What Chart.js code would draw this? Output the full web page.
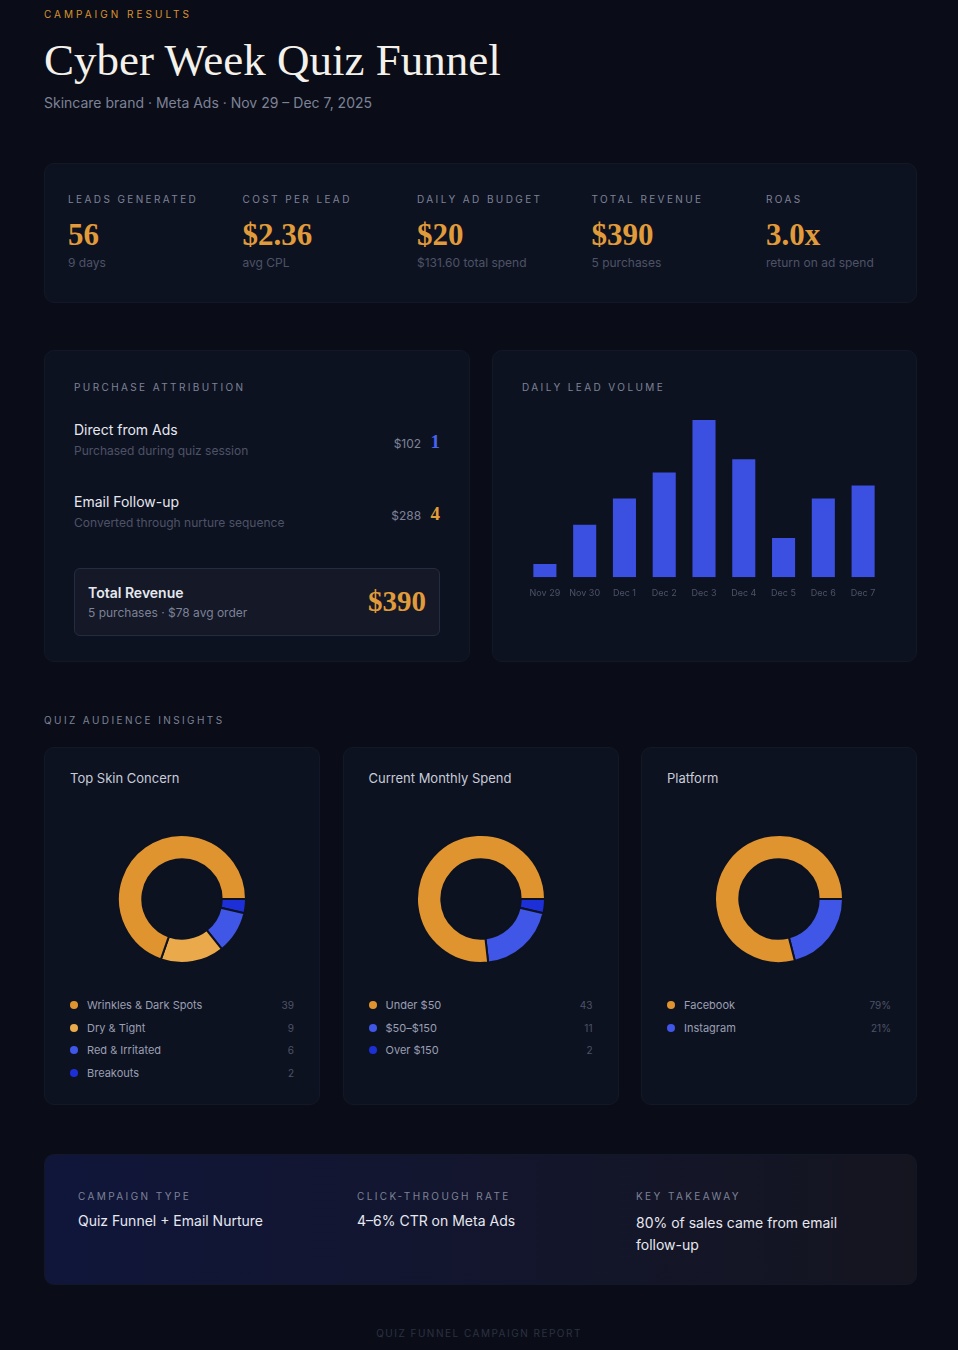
<!DOCTYPE html>
<html><head><meta charset="utf-8">
<script src="https://cdn.jsdelivr.net/npm/chart.js@4"></script>
<style>
body{margin:0;background:#0a0d18;font-family:Inter,"Noto Sans",sans-serif;color:#e6e8f0;width:958px;height:1350px;overflow:hidden;}
.wrap{padding:0 44px;position:relative}
.kick{color:#d9932e;font-size:10px;letter-spacing:3px;padding-top:8px}
h1{font-family:"Liberation Serif","DejaVu Serif",serif;font-weight:400;font-size:45px;margin:14px 0 8px;color:#f4f1ea}
.sub{color:#7d8296;font-size:14px}
.card{background:#0d1221;border:1px solid #121828;border-radius:10px;position:absolute}
.lab{font-size:10px;letter-spacing:2.4px;color:#7d8296}
.big{font-family:"Liberation Serif","DejaVu Serif",serif;font-weight:700;color:#e19b3a;font-size:31px;margin-top:12px}
.sm{font-size:12px;color:#4d5366;margin-top:2px}
.kpi{position:absolute;top:29px}
.row{position:absolute;left:29px;right:29px}
.t{font-size:14px;color:#e6e8f0}
.d{font-size:12px;color:#4d5366;margin-top:5px}
.leg{position:absolute;left:25px;right:25px;font-size:11px;color:#9a9fb2}
.leg div{display:flex;align-items:center;height:22.5px}
.leg i{width:8px;height:8px;border-radius:50%;display:inline-block;margin-right:9px}
.leg span{margin-left:auto;color:#4d5366;font-size:10px}
.ct{position:absolute;left:25px;top:22px;font-size:13px;color:#c8ccd8}
</style></head><body>
<div class="wrap">
<div class="kick">CAMPAIGN RESULTS</div>
<h1>Cyber Week Quiz Funnel</h1>
<div class="sub">Skincare brand · Meta Ads · Nov 29 – Dec 7, 2025</div>
</div>
<div class="card" style="left:44px;top:163px;width:871px;height:138px" id="kpis"></div>

<div class="card" style="left:44px;top:350px;width:424px;height:310px">
 <div class="lab" style="position:absolute;left:29px;top:30px">PURCHASE ATTRIBUTION</div>
 <div class="row" style="top:70px"><div class="t">Direct from Ads</div><div class="d">Purchased during quiz session</div>
  <div style="position:absolute;right:0;top:10px;font-size:12px;color:#7d8296">$102 <b style="font-family:'Liberation Serif',serif;color:#4a62f0;font-size:19px;margin-left:6px">1</b></div></div>
 <div class="row" style="top:142px"><div class="t">Email Follow-up</div><div class="d">Converted through nurture sequence</div>
  <div style="position:absolute;right:0;top:10px;font-size:12px;color:#7d8296">$288 <b style="font-family:'Liberation Serif',serif;color:#e19b3a;font-size:19px;margin-left:6px">4</b></div></div>
 <div class="row" style="top:217px;height:66px;border:1px solid #262c40;border-radius:6px;background:#141827">
  <div style="position:absolute;left:13px;top:15px;font-size:14px;font-weight:600">Total Revenue</div>
  <div style="position:absolute;left:13px;top:36px;font-size:12px;color:#7d8296">5 purchases · $78 avg order</div>
  <div style="position:absolute;right:13px;top:16px;font-family:'Liberation Serif',serif;font-weight:700;font-size:29px;color:#e19b3a">$390</div>
 </div>
</div>

<div class="card" style="left:492px;top:350px;width:423px;height:310px">
 <div class="lab" style="position:absolute;left:29px;top:30px">DAILY LEAD VOLUME</div>
 <div style="position:absolute;left:32px;top:69px;width:358px;height:182px"><canvas id="bar"></canvas></div>
</div>

<div class="lab" style="position:absolute;left:44px;top:714px">QUIZ AUDIENCE INSIGHTS</div>
<div id="donuts"></div>

<div class="card" style="left:44px;top:1154px;width:871px;height:129px;background:linear-gradient(90deg,#10163a,#151520)">
 <div style="position:absolute;left:33px;top:35px"><div class="lab">CAMPAIGN TYPE</div><div style="font-size:14px;margin-top:10px">Quiz Funnel + Email Nurture</div></div>
 <div style="position:absolute;left:312px;top:35px"><div class="lab">CLICK-THROUGH RATE</div><div style="font-size:14px;margin-top:10px">4–6% CTR on Meta Ads</div></div>
 <div style="position:absolute;left:591px;top:35px;width:250px"><div class="lab">KEY TAKEAWAY</div><div style="font-size:14px;margin-top:10px;line-height:22px">80% of sales came from email follow-up</div></div>
</div>
<div style="position:absolute;top:1327px;width:958px;text-align:center;font-size:10px;letter-spacing:1.5px;color:#2c3142">QUIZ FUNNEL CAMPAIGN REPORT</div>

<script>
const kpiLabels = ['LEADS GENERATED','COST PER LEAD','DAILY AD BUDGET','TOTAL REVENUE','ROAS'];
const kpiValues = ['56','$2.36','$20','$390','3.0x'];
const kpiNotes = ['9 days','avg CPL','$131.60 total spend','5 purchases','return on ad spend'];

const days = ['Nov 29','Nov 30','Dec 1','Dec 2','Dec 3','Dec 4','Dec 5','Dec 6','Dec 7'];
const dailyLeads = [1,4,6,8,12,9,3,6,7];

const donutTitles = ['Top Skin Concern','Current Monthly Spend','Platform'];
const concernLabels = ['Wrinkles & Dark Spots','Dry & Tight','Red & Irritated','Breakouts'];
const concernValues = [39,9,6,2];
const spendLabels = ['Under $50','$50–$150','Over $150'];
const spendValues = [43,11,2];
const platformLabels = ['Facebook','Instagram'];
const platformValues = [79,21];
const platformText = ['79%','21%'];

const kp = document.getElementById('kpis');
kpiLabels.forEach((l,i)=>{
  const d=document.createElement('div');d.className='kpi';d.style.left=(23+i*174.5)+'px';
  d.innerHTML=`<div class="lab">${l}</div><div class="big">${kpiValues[i]}</div><div class="sm">${kpiNotes[i]}</div>`;
  kp.appendChild(d);
});

new Chart(document.getElementById('bar'),{
  type:'bar',
  data:{labels:days,datasets:[{data:dailyLeads,backgroundColor:'#3b4fe0',barPercentage:0.58,categoryPercentage:1}]},
  options:{responsive:true,maintainAspectRatio:false,animation:false,
    plugins:{legend:{display:false},tooltip:{enabled:false}},
    scales:{x:{grid:{display:false},border:{display:false},ticks:{color:'#4d5366',font:{size:9,family:'Inter'},maxRotation:0,autoSkip:false}},
      y:{display:false,beginAtZero:true,max:12}}}
});

const sets=[
  {labels:concernLabels,values:concernValues,colors:['#e0942f','#eaa94a','#3f56e6','#1d2fd6'],text:concernValues},
  {labels:spendLabels,values:spendValues,colors:['#e0942f','#3f56e6','#1d2fd6'],text:spendValues},
  {labels:platformLabels,values:platformValues,colors:['#e0942f','#3f56e6'],text:platformText}
];
const dn=document.getElementById('donuts');
sets.forEach((s,i)=>{
  const c=document.createElement('div');c.className='card';
  c.style.cssText=`left:${44+i*298.5}px;top:747px;width:274px;height:356px`;
  let leg=s.labels.map((l,j)=>`<div><i style="background:${s.colors[j]}"></i>${l}<span>${s.text[j]}</span></div>`).join('');
  c.innerHTML=`<div class="ct">${donutTitles[i]}</div><div style="position:absolute;left:72px;top:86px;width:130px;height:130px"><canvas></canvas></div><div class="leg" style="top:246px">${leg}</div>`;
  dn.appendChild(c);
  new Chart(c.querySelector('canvas'),{
    type:'doughnut',
    data:{labels:s.labels.slice().reverse(),datasets:[{data:s.values.slice().reverse(),backgroundColor:s.colors.slice().reverse(),borderColor:'#0d1221',borderWidth:2}]},
    options:{responsive:true,maintainAspectRatio:false,animation:false,cutout:'62%',rotation:90,
      plugins:{legend:{display:false},tooltip:{enabled:false}}}
  });
});
</script>
</body></html>
